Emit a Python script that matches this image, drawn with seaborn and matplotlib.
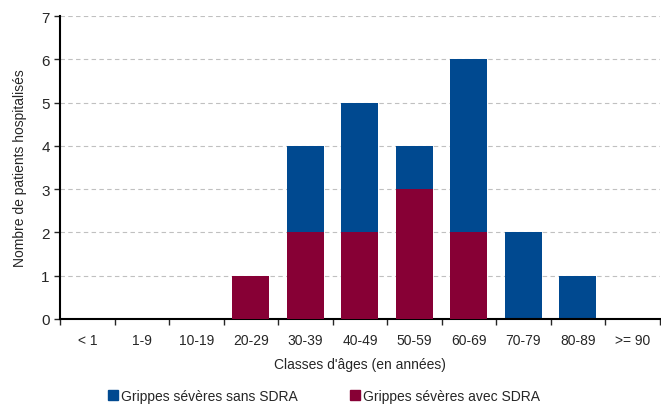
import matplotlib
matplotlib.use("Agg")
import matplotlib.pyplot as plt
import seaborn as sns
import pandas as pd
from matplotlib.patches import Patch

# data
categories = ["< 1", "1-9", "10-19", "20-29", "30-39", "40-49", "50-59", "60-69", "70-79", "80-89", ">= 90"]
avec_sdra = [0, 0, 0, 1, 2, 2, 3, 2, 0, 0, 0]
sans_sdra = [0, 0, 0, 0, 2, 3, 1, 4, 2, 1, 0]

blue = "#004990"
red = "#870035"

df = pd.DataFrame({"classe": categories, "avec": avec_sdra, "sans": sans_sdra})
df["total"] = df["avec"] + df["sans"]

sns.set_style("white")
plt.rcParams["font.family"] = ["Liberation Sans", "DejaVu Sans"]

fig = plt.figure(figsize=(6.61, 4.06), dpi=100)
ax = fig.add_axes([0.091, 0.212, 0.907, 0.746])

sns.barplot(data=df, x="classe", y="total", color=blue, width=0.68, saturation=1,
            linewidth=0, ax=ax, zorder=2)
sns.barplot(data=df, x="classe", y="avec", color=red, width=0.68, saturation=1,
            linewidth=0, ax=ax, zorder=3)

ax.set_ylim(0, 7)
ax.set_xlim(-0.5, len(categories) - 0.5)
ax.set_yticks(range(0, 8))
ax.yaxis.grid(True, linestyle=(0, (4, 3)), color="#c0c0c0", linewidth=0.8, zorder=0)
ax.set_axisbelow(True)

for s in ["top", "right"]:
    ax.spines[s].set_visible(False)
for s in ["left", "bottom"]:
    ax.spines[s].set_color("black")
    ax.spines[s].set_linewidth(1.5)

ax.set_xticks([i - 0.5 for i in range(len(categories) + 1)], minor=True)
ax.tick_params(axis="x", which="major", length=0, labelsize=10, pad=10)
ax.tick_params(axis="x", which="minor", length=4, width=1, direction="out", bottom=True)
ax.tick_params(axis="y", length=4, width=1, direction="out", left=True, labelsize=11)

ax.set_xlabel("Classes d'âges (en années)", fontsize=10, labelpad=7)
ax.set_ylabel("Nombre de patients hospitalisés", fontsize=10, labelpad=10)

handles = [Patch(color=blue, label="Grippes sévères sans SDRA"),
           Patch(color=red, label="Grippes sévères avec SDRA")]
fig.legend(handles=handles, loc="lower left", bbox_to_anchor=(0.145, -0.025), ncol=2,
           frameon=False, fontsize=10, handlelength=0.7, handleheight=0.7,
           handletextpad=0.2, columnspacing=3.8)

plt.savefig("out.png", dpi=100)
